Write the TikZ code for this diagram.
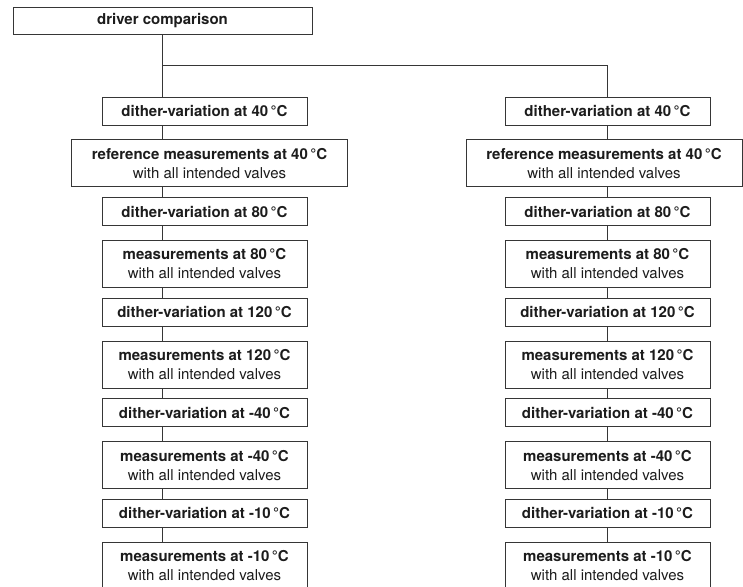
\documentclass[tikz,border=0pt]{standalone}
\usepackage{fontspec}
\setmainfont{TeX Gyre Heros}
\usepackage{tikz}
\usetikzlibrary{positioning,calc}
\definecolor{Ink}{HTML}{1C1C1C}
\definecolor{Frame}{HTML}{363636}
\tikzset{
  box/.style={draw=Frame,fill=white,line width=.8pt,align=center,inner xsep=0pt,inner ysep=0pt,text=Ink,font=\fontsize{15}{19}\selectfont},
  head/.style={box,font=\fontsize{15}{19}\selectfont\bfseries,minimum width=299pt,minimum height=27pt},
  dither/.style={box,font=\fontsize{15}{19}\selectfont\bfseries,minimum width=205pt,minimum height=28pt},
  meas/.style={box,minimum width=205pt,minimum height=47pt},
  refmeas/.style={meas,minimum width=276pt},
  link/.style={draw=Frame,line width=.8pt}
}

\begin{document}
\begin{tikzpicture}[x=1pt,y=-1pt,node distance=14pt]
      \useasboundingbox (0,0) rectangle (743,586);
      \node[head] (cmp) at (162.5,20.5) {driver comparison};
      \coordinate (split) at ($(cmp.south)+(0,31)$);
      \node[dither] (dL1) at (204.5,111) {dither-variation at 40\,°C};
      \node[refmeas,below=of dL1,xshift=5pt] (mL1) {\textbf{reference measurements at 40\,°C}\\with all intended valves};
      \node[dither,below=10pt of mL1,xshift=-5pt] (dL2) {dither-variation at 80\,°C};
      \node[meas,below=of dL2] (mL2) {\textbf{measurements at 80\,°C}\\with all intended valves};
      \node[dither,below=10pt of mL2] (dL3) {dither-variation at 120\,°C};
      \node[meas,below=of dL3] (mL3) {\textbf{measurements at 120\,°C}\\with all intended valves};
      \node[dither,below=10pt of mL3] (dL4) {dither-variation at -40\,°C};
      \node[meas,below=of dL4] (mL4) {\textbf{measurements at -40\,°C}\\with all intended valves};
      \node[dither,below=10pt of mL4] (dL5) {dither-variation at -10\,°C};
      \node[meas,below=of dL5] (mL5) {\textbf{measurements at -10\,°C}\\with all intended valves};
      \node[dither] (dR1) at (607.5,111) {dither-variation at 40\,°C};
      \node[refmeas,below=of dR1,xshift=-3.5pt] (mR1) {\textbf{reference measurements at 40\,°C}\\with all intended valves};
      \node[dither,below=10pt of mR1,xshift=3.5pt] (dR2) {dither-variation at 80\,°C};
      \node[meas,below=of dR2] (mR2) {\textbf{measurements at 80\,°C}\\with all intended valves};
      \node[dither,below=10pt of mR2] (dR3) {dither-variation at 120\,°C};
      \node[meas,below=of dR3] (mR3) {\textbf{measurements at 120\,°C}\\with all intended valves};
      \node[dither,below=10pt of mR3] (dR4) {dither-variation at -40\,°C};
      \node[meas,below=of dR4] (mR4) {\textbf{measurements at -40\,°C}\\with all intended valves};
      \node[dither,below=10pt of mR4] (dR5) {dither-variation at -10\,°C};
      \node[meas,below=of dR5] (mR5) {\textbf{measurements at -10\,°C}\\with all intended valves};
      \draw[link] (cmp.south) -- (dL1.north -| cmp.south);
      \draw[link] (split) -| (dR1.north);
      \draw[link] (dL1.south -| cmp.south) -- (mL1.north -| cmp.south);
      \draw[link] (mL1.south -| cmp.south) -- (dL2.north -| cmp.south);
      \draw[link] (dL2.south -| cmp.south) -- (mL2.north -| cmp.south);
      \draw[link] (mL2.south -| cmp.south) -- (dL3.north -| cmp.south);
      \draw[link] (dL3.south -| cmp.south) -- (mL3.north -| cmp.south);
      \draw[link] (mL3.south -| cmp.south) -- (dL4.north -| cmp.south);
      \draw[link] (dL4.south -| cmp.south) -- (mL4.north -| cmp.south);
      \draw[link] (mL4.south -| cmp.south) -- (dL5.north -| cmp.south);
      \draw[link] (dL5.south -| cmp.south) -- (mL5.north -| cmp.south);
      \draw[link] (dR1.south) -- (mR1.north -| dR1.south);
      \draw[link] (mR1.south -| dR1.south) -- (dR2.north);
      \draw[link] (dR2.south) -- (mR2.north);
      \draw[link] (mR2.south) -- (dR3.north);
      \draw[link] (dR3.south) -- (mR3.north);
      \draw[link] (mR3.south) -- (dR4.north);
      \draw[link] (dR4.south) -- (mR4.north);
      \draw[link] (mR4.south) -- (dR5.north);
      \draw[link] (dR5.south) -- (mR5.north);
    \end{tikzpicture}
\end{document}
